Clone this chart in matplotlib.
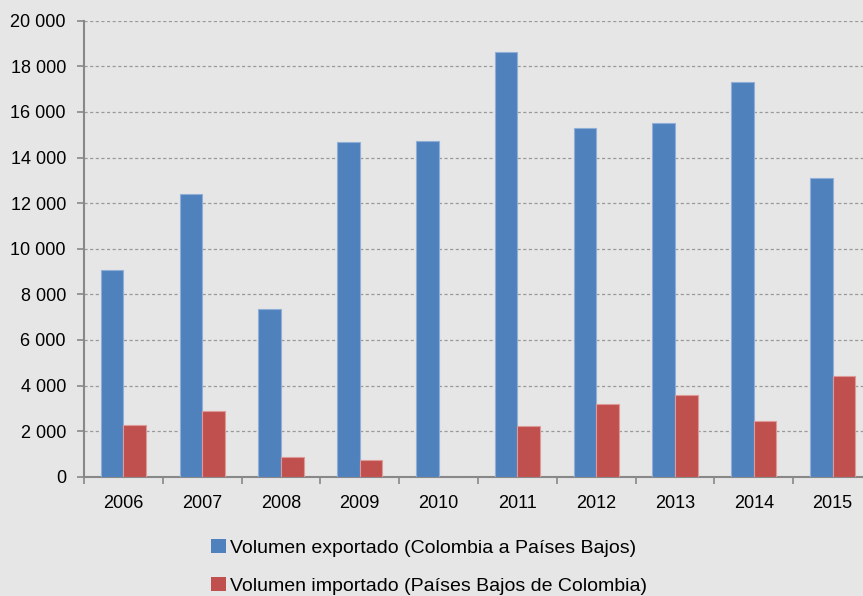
import numpy as np
import matplotlib
matplotlib.use("Agg")
import matplotlib.pyplot as plt
from matplotlib.patches import Patch
from matplotlib.ticker import FuncFormatter, MultipleLocator

years = ['2006', '2007', '2008', '2009', '2010', '2011', '2012', '2013', '2014', '2015']
exportado = [9050, 12400, 7370, 14700, 14730, 18630, 15280, 15530, 17320, 13100]
importado = [2250, 2900, 880, 720, 0, 2210, 3200, 3600, 2450, 4430]

label_exp = 'Volumen exportado (Colombia a Países Bajos)'
label_imp = 'Volumen importado (Países Bajos de Colombia)'

BLUE = '#4F81BD'
RED = '#C0504D'
BG = '#E6E6E6'
AXIS = '#888888'

plt.rcParams['font.family'] = ['Liberation Sans', 'DejaVu Sans']

fig = plt.figure(figsize=(8.63, 5.96), dpi=100, facecolor=BG)
ax = fig.add_axes([84 / 863, 1 - 476.7 / 596, 788 / 863, 456 / 596])
ax.set_facecolor(BG)

x = np.arange(len(years))
w = 0.286
ax.bar(x - w / 2, exportado, w, color=BLUE, edgecolor='#8FAFD6', linewidth=0.8, zorder=3)
ax.bar(x + w / 2, importado, w, color=RED, edgecolor='#DE9A98', linewidth=0.8, zorder=3)

ax.set_xlim(-0.5, len(years) - 0.5)
ax.set_ylim(0, 20000)
ax.yaxis.set_major_locator(MultipleLocator(2000))
ax.yaxis.set_major_formatter(FuncFormatter(lambda v, p: f'{int(v):,}'.replace(',', ' ')))
ax.yaxis.grid(True, color='#999999', linestyle=(0, (2.5, 2)), linewidth=0.9, zorder=0)

ax.set_xticks(x)
ax.set_xticklabels(years)
ax.set_xticks(np.arange(-0.5, len(years), 1), minor=True)
ax.tick_params(axis='x', which='major', length=0, pad=13, labelsize=13)
ax.tick_params(axis='x', which='minor', length=5, width=1.2, color=AXIS, direction='out')
ax.tick_params(axis='y', length=5, width=1.2, color=AXIS, direction='out', labelsize=13, pad=8)

for side in ['top', 'right']:
    ax.spines[side].set_visible(False)
for side in ['left', 'bottom']:
    ax.spines[side].set_color(AXIS)
    ax.spines[side].set_linewidth(1.5)

handles = [Patch(facecolor=BLUE, edgecolor='none'), Patch(facecolor=RED, edgecolor='none')]
fig.legend(handles, [label_exp, label_imp], loc='center', bbox_to_anchor=(0.497, 1 - 567 / 596),
           frameon=False, fontsize=14, handlelength=0.75, handleheight=0.75,
           handletextpad=0.2, labelspacing=1.05)

fig.savefig('out.png', dpi=100, facecolor=BG)
